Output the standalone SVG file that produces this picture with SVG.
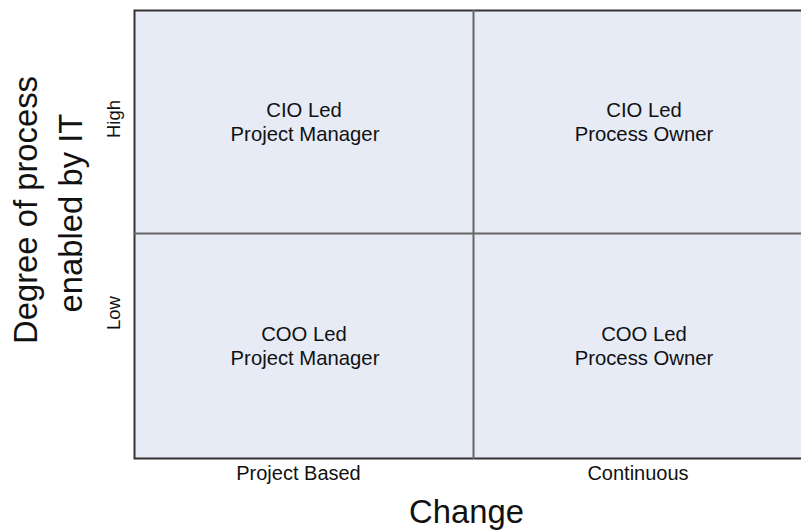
<svg xmlns="http://www.w3.org/2000/svg" width="801" height="531" viewBox="0 0 801 531">
<style>
text{font-family:"Liberation Sans",Arial,sans-serif;fill:#111;text-anchor:middle}
.q{font-size:20.3px}
.ax{font-size:20px}
.big{font-size:32.8px}
.sm{font-size:18.5px}
.cell{fill:#e6ebf6;stroke:none}
</style>
<rect width="801" height="531" fill="#fff"/>
<g id="quadrant-tl"><rect class="cell" x="134" y="10" width="340" height="223"/><text class="q" x="304" y="117">CIO Led</text><text class="q" x="305" y="140.5">Project Manager</text></g>
<g id="quadrant-tr"><rect class="cell" x="474" y="10" width="327" height="223"/><text class="q" x="644" y="117">CIO Led</text><text class="q" x="644" y="140.5">Process Owner</text></g>
<g id="quadrant-bl"><rect class="cell" x="134" y="233" width="340" height="226"/><text class="q" x="304" y="341">COO Led</text><text class="q" x="305" y="364.5">Project Manager</text></g>
<g id="quadrant-br"><rect class="cell" x="474" y="233" width="327" height="226"/><text class="q" x="644" y="341">COO Led</text><text class="q" x="644" y="364.5">Process Owner</text></g>
<g id="lines" fill="none">
<path d="M801 10.5H134.5V458.5H801" stroke="#333" stroke-width="2"/>
<path d="M473.5 10V459M134 233.5H801" stroke="#666" stroke-width="2"/>
</g>
<g id="axis-x"><text class="ax" x="298.5" y="480">Project Based</text><text class="ax" x="638" y="480">Continuous</text><text class="big" x="466.5" y="523">Change</text></g>
<g id="axis-y">
<text class="big" transform="translate(37,210) rotate(-90)">Degree of process</text>
<text class="big" transform="translate(82,213) rotate(-90)">enabled by IT</text>
<text class="sm" transform="translate(120,119) rotate(-90)">High</text>
<text class="sm" transform="translate(120,313) rotate(-90)">Low</text>
</g>
</svg>
